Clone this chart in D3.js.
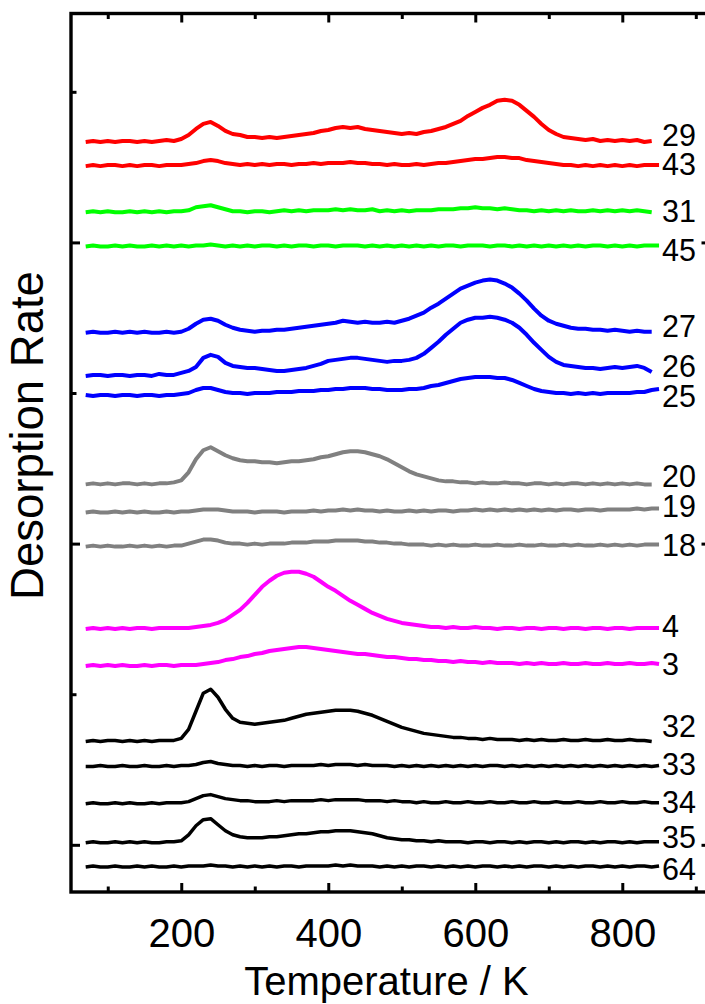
<!DOCTYPE html>
<html>
<head>
<meta charset="utf-8">
<script src="https://cdn.jsdelivr.net/npm/d3@7"></script>
<style>
  html, body { margin: 0; padding: 0; background: #fff; }
  svg { display: block; font-family: "Liberation Sans", Arial, sans-serif; }
</style>
</head>
<body>
<svg id="chart" width="705" height="1004"></svg>
<script>
// ---------------- DATA ----------------
const temperatures = [70,80,90,100,110,120,130,140,150,160,170,180,190,200,210,220,230,240,250,260,270,280,290,300,310,320,330,340,350,360,370,380,390,400,410,420,430,440,450,460,470,480,490,500,510,520,530,540,550,560,570,580,590,600,610,620,630,640,650,660,670,680,690,700,710,720,730,740,750,760,770,780,790,800,810,820,830,840,850];

const massLabels = ["29","43","31","45","27","26","25","20","19","18","4","3","32","33","34","35","64"];
const traceOffsets = [700,676,630,596,510,467,447,359,331,297,215,178,103,78,41,2,-22];

const m29 = [0,1,0,1,0,1,1,0,1,0,1,2,1, 3,7,13,18,20,16,11,8,7,5,5,4,5,4,5,6,7,8,9,11,12,14,15,14,15,13,12,11,10,9,8,9,8,10,11,13,15,18,21,26,30,34,37,41,42,41,37,31,25,18,12,8,5,4,3,2,3,1,2,1,2,1,2,0,1,null];
const m43 = [0,1,0,1,1,0,1,0,1,1,0,1,1, 1,2,3,5,6,5,3,2,1,2,1,2,1,2,2,1,2,2,3,2,3,3,3,4,3,3,2,2,1,2,1,1,2,1,2,3,3,4,5,6,7,7,8,9,9,8,8,6,5,4,3,2,1,1,0,1,0,1,0,1,0,1,0,1,1,1];
const m31 = [0,1,0,1,0,0,1,0,1,0,1,0,1, 1,2,5,6,7,5,3,1,1,0,1,1,0,1,2,1,2,1,2,2,2,3,2,3,2,2,3,1,2,1,2,1,2,2,2,3,3,3,4,4,5,4,4,3,4,3,2,2,1,2,1,2,1,2,1,1,2,1,2,1,2,1,2,1,0,null];
const m45 = [0,1,0,0,1,0,1,0,0,1,0,1,0, 1,0,1,1,2,1,0,1,0,1,0,1,1,0,1,0,1,1,0,1,1,0,1,1,1,0,1,0,1,0,1,0,1,0,1,0,1,1,0,1,1,1,0,1,1,0,1,0,1,0,1,0,1,0,1,0,1,1,0,1,0,1,0,1,1,1];
const m27 = [0,1,0,0,1,0,1,0,1,0,0,1,0, 1,4,9,13,14,12,8,5,3,2,1,2,2,3,3,4,5,6,7,8,9,10,12,11,10,11,10,10,11,10,12,14,17,20,25,29,34,39,44,47,50,52,53,52,49,45,39,32,24,17,12,9,7,5,4,4,3,3,2,3,2,1,2,1,1,null];
const m26 = [0,1,1,0,1,1,0,1,1,0,2,1,1, 3,5,9,18,21,19,13,10,9,8,8,7,6,5,5,6,7,8,10,12,15,16,17,18,18,17,16,15,14,15,15,16,18,22,28,34,41,47,53,56,58,58,59,58,56,53,48,41,33,26,19,14,11,10,9,8,8,7,8,9,8,9,10,8,4,null];
const m25 = [1,0,1,1,0,1,1,0,1,1,0,1,1, 2,3,6,8,8,6,4,3,3,2,3,3,3,4,4,4,5,5,5,6,6,7,7,8,8,8,7,7,6,6,6,7,7,8,10,11,13,15,17,18,19,19,19,18,18,16,13,10,7,5,4,3,3,2,3,2,3,2,3,3,3,3,4,4,6,7];
const m20 = [0,1,0,1,0,1,1,0,1,0,1,1,2, 4,12,25,34,37,33,29,26,24,23,23,22,22,21,22,23,23,24,25,27,28,30,32,33,33,32,30,28,25,21,17,13,10,8,6,4,3,3,2,2,1,2,1,1,2,1,1,0,1,1,0,1,0,1,1,0,1,0,1,0,1,0,1,0,0,null];
const m19 = [0,1,0,0,1,0,1,0,1,0,0,1,0, 1,1,2,3,3,3,2,1,1,1,0,1,1,1,0,1,1,1,2,1,2,2,3,2,3,2,2,1,2,1,1,2,1,2,1,2,2,1,2,2,3,2,3,2,3,2,3,2,3,2,3,2,3,3,2,3,3,2,3,3,3,3,4,3,4,4];
const m18 = [0,1,0,1,0,0,1,0,1,0,1,0,1, 1,3,5,7,7,6,4,3,3,2,3,2,3,3,3,4,4,4,5,5,5,6,6,6,6,5,5,4,4,3,3,2,2,2,1,2,1,2,1,1,2,1,1,2,1,1,2,1,1,2,1,1,2,1,2,1,1,2,1,2,1,2,1,2,2,2];
const m4 = [0,1,0,1,0,1,0,1,1,0,1,1,1, 1,1,2,3,4,6,9,14,19,26,34,42,48,53,56,57,57,55,52,47,42,38,33,28,24,20,16,13,10,8,6,5,4,3,2,2,1,2,1,1,2,1,1,0,1,1,0,1,1,0,1,1,0,1,1,0,1,1,0,1,1,0,1,1,1,1];
const m3 = [0,1,0,1,0,1,0,0,1,0,1,1,0, 1,1,1,2,3,4,6,7,9,10,12,13,15,16,17,18,19,19,18,17,16,15,14,13,12,12,11,10,9,9,8,7,7,6,6,5,5,4,5,4,4,3,4,3,3,3,2,3,2,3,2,2,3,2,2,3,2,2,3,2,2,3,2,2,3,2];
const m32 = [0,1,0,1,1,0,1,0,1,0,1,1,1, 3,12,30,48,52,44,32,23,19,18,17,18,19,20,21,23,25,27,28,29,30,31,31,31,30,28,26,23,20,17,14,12,10,8,7,6,5,4,4,3,3,2,3,2,2,2,1,2,1,2,1,1,2,1,1,2,1,1,2,1,1,2,1,1,0,null];
const m33 = [0,0,1,0,0,1,0,0,1,0,0,1,0, 1,1,2,4,5,3,2,1,1,0,1,0,1,1,0,1,1,1,1,2,1,2,2,2,1,2,1,1,1,0,1,0,1,0,1,0,1,0,1,0,1,0,1,1,0,1,0,1,0,1,0,1,0,1,0,1,0,1,0,1,0,1,0,1,0,1];
const m34 = [0,1,0,0,1,0,1,0,0,1,0,1,1, 1,2,5,8,9,7,5,4,3,3,2,2,2,3,2,3,3,3,3,4,3,4,4,4,4,3,3,3,2,3,2,2,1,2,1,1,2,1,1,2,1,1,2,1,1,2,1,1,2,1,1,2,1,1,2,1,1,2,1,1,2,1,1,2,1,1];
const m35 = [0,1,0,0,1,0,1,0,1,0,0,1,1, 2,8,17,23,24,18,12,8,6,5,5,5,6,6,7,8,9,9,10,11,11,12,12,12,11,10,9,7,5,4,3,3,2,2,1,2,1,1,1,0,1,1,0,1,1,0,1,0,1,1,0,1,0,1,1,0,1,0,1,1,0,1,0,1,1,1];
const m64 = [0,1,0,0,1,0,0,1,0,1,0,0,1, 0,1,1,1,2,1,1,0,1,0,1,0,1,0,1,1,0,1,1,1,1,2,1,2,1,1,1,0,1,0,1,0,1,1,0,1,0,1,0,1,0,1,1,0,1,0,1,0,1,1,0,1,0,1,0,1,1,0,1,0,1,0,1,1,0,1];

const xMajorTicks = [200,400,600,800];
const xMinorTicks = [100,300,500,700,900];
const yMajorTicks = [0,300,600];
const yMinorTicks = [150,450,750];

// ---------------- STYLE / LAYOUT ----------------
const traceSignals = [m29,m43,m31,m45,m27,m26,m25,m20,m19,m18,m4,m3,m32,m33,m34,m35,m64];
const traceColors = ["#ff0000","#ff0000","#00ff00","#00ff00","#0000ff","#0000ff","#0000ff",
                     "#808080","#808080","#808080","#ff00ff","#ff00ff",
                     "#000000","#000000","#000000","#000000","#000000"];
const labelNudge = [4,9,10,15,4,1,11,3,5,9,8,9,-4,8,9,5,13];

const svg = d3.select("#chart");

const x = d3.scaleLinear().domain([50, 920]).range([71, 710.5]);
const y = d3.scaleLinear().domain([-47, 828]).range([892, 13.5]);

// traces
const line = d3.line()
  .defined(d => d.v != null)
  .x(d => x(d.t))
  .y(d => y(d.v));

traceSignals.forEach((sig, k) => {
  const pts = temperatures.map((t, i) => ({ t, v: sig[i] == null ? null : traceOffsets[k] + sig[i] }));
  svg.append("path")
    .datum(pts)
    .attr("fill", "none")
    .attr("stroke", traceColors[k])
    .attr("stroke-width", traceColors[k] === "#000000" ? 3.5 : 4)
    .attr("stroke-linejoin", "round")
    .attr("d", line);
  svg.append("text")
    .attr("x", 662)
    .attr("y", y(traceOffsets[k]) + labelNudge[k])
    .attr("font-size", 30.5)
    .attr("fill", "#000")
    .text(massLabels[k]);
});

// axes (inward ticks on all four sides)
function styleAxis(g) {
  g.select(".domain").remove();
  g.selectAll(".tick line").attr("stroke", "#000").attr("stroke-width", 3);
}
const MAJ = 9, MIN = 5.5;

svg.append("g").attr("transform", "translate(0,892)")
  .call(d3.axisBottom(x).tickValues(xMajorTicks).tickSizeInner(-MAJ).tickSizeOuter(0).tickPadding(27).tickFormat(d3.format("d")))
  .call(styleAxis)
  .call(g => g.selectAll("text").attr("font-size", 40).attr("fill", "#000").attr("font-family", "Liberation Sans, Arial, sans-serif"));
svg.append("g").attr("transform", "translate(0,892)")
  .call(d3.axisBottom(x).tickValues(xMinorTicks).tickSizeInner(-MIN).tickSizeOuter(0).tickFormat(""))
  .call(styleAxis);
svg.append("g").attr("transform", "translate(0,13.5)")
  .call(d3.axisTop(x).tickValues(xMajorTicks).tickSizeInner(-MAJ).tickSizeOuter(0).tickFormat(""))
  .call(styleAxis);
svg.append("g").attr("transform", "translate(0,13.5)")
  .call(d3.axisTop(x).tickValues(xMinorTicks).tickSizeInner(-MIN).tickSizeOuter(0).tickFormat(""))
  .call(styleAxis);
svg.append("g").attr("transform", "translate(71,0)")
  .call(d3.axisLeft(y).tickValues(yMajorTicks).tickSizeInner(-MAJ).tickSizeOuter(0).tickFormat(""))
  .call(styleAxis);
svg.append("g").attr("transform", "translate(71,0)")
  .call(d3.axisLeft(y).tickValues(yMinorTicks).tickSizeInner(-MIN).tickSizeOuter(0).tickFormat(""))
  .call(styleAxis);
svg.append("g").attr("transform", "translate(710.5,0)")
  .call(d3.axisRight(y).tickValues(yMajorTicks).tickSizeInner(-MAJ).tickSizeOuter(0).tickFormat(""))
  .call(styleAxis);
svg.append("g").attr("transform", "translate(710.5,0)")
  .call(d3.axisRight(y).tickValues(yMinorTicks).tickSizeInner(-MIN).tickSizeOuter(0).tickFormat(""))
  .call(styleAxis);

// frame
svg.append("rect")
  .attr("x", x.range()[0]).attr("y", y.range()[1])
  .attr("width", x.range()[1] - x.range()[0])
  .attr("height", y.range()[0] - y.range()[1])
  .attr("fill", "none").attr("stroke", "#000").attr("stroke-width", 3.4);

// titles
svg.append("text")
  .attr("x", 386.5).attr("y", 995)
  .attr("text-anchor", "middle")
  .attr("font-size", 40)
  .text("Temperature / K");
svg.append("text")
  .attr("transform", "translate(43,435.5) rotate(-90)")
  .attr("text-anchor", "middle")
  .attr("font-size", 45.5)
  .text("Desorption Rate");
</script>
</body>
</html>
